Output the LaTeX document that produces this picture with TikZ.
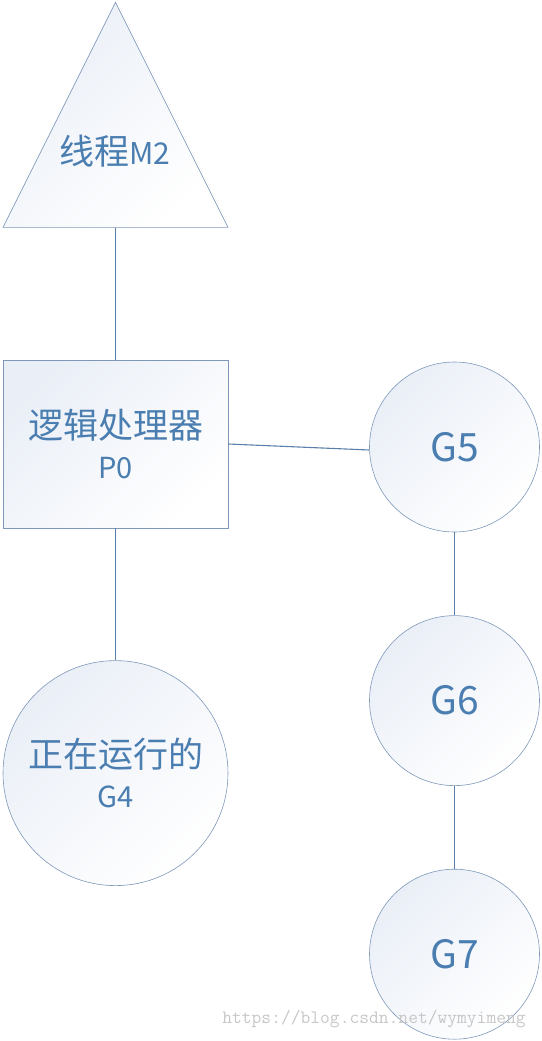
\documentclass[tikz,border=0pt]{standalone}
\usepackage{fontspec}
\setmainfont{Noto Sans CJK SC}
\usetikzlibrary{shapes.geometric,positioning}
\definecolor{rand}{HTML}{7F98BA}
\definecolor{linie}{HTML}{5A7FAA}
\definecolor{schrift}{HTML}{4A7DB0}
\definecolor{hell}{HTML}{EAEFF7}
\tikzset{
    %Define base look of all shapes
    form/.style={
           draw=rand, line width=0.6pt,
           top color=hell, bottom color=white,
           shading angle=45,
           inner sep=0pt},
    %Define style for the thread triangle
    dreieck/.style={
           form,
           isosceles triangle,
           isosceles triangle stretches,
           shape border rotate=90,
           minimum width=225pt,
           minimum height=225pt},
    %Define style for the processor box
    kasten/.style={
           form,
           rectangle,
           minimum width=225pt,
           minimum height=168pt},
    %Define style for the goroutines
    kreis/.style={
           form,
           circle,
           minimum size=170pt},
    % Define texts
    schrift/.style={
           text=schrift,
           align=center,
           font=\fontsize{35}{40}\selectfont},
    gross/.style={
           text=schrift,
           font=\fontsize{39}{44}\selectfont},
    % Define line style
    linie/.style={
           draw=linie,
           line width=1.1pt}
}

\begin{document}
\begin{tikzpicture}[x=1pt,y=1pt,node distance=132pt]
    \useasboundingbox (0,0) rectangle (541,-1041);
    \node (p0) [kasten] at (115.5,-444) {};
    \node (p0text) [schrift] at (p0) {逻辑处理器\\{\fontsize{29}{40}\selectfont P0}};
    \node (m2) [dreieck] [above=of p0] {};
    \node (m2text) [schrift] at (115,-151) {线程{\fontsize{30}{40}\selectfont M2}};
    \node (g4) [form,circle,minimum size=225pt] [below=of p0] {};
    \node (g4text) [schrift] at (g4) {正在运行的\\{\fontsize{29}{40}\selectfont G4}};
    \node (g5) [kreis] at (454.5,-447) {};
    \node (g5text) [gross] at (g5) {G5};
    \node (g6) [kreis] [below=83pt of g5] {};
    \node (g6text) [gross] at (g6) {G6};
    \node (g7) [kreis] [below=83pt of g6] {};
    \node (g7text) [gross] at (g7) {G7};
    % connectors
    \draw [linie] (m2.south) -- (p0.north);
    \draw [linie] (p0.south) -- (g4.north);
    \draw [linie] (p0.east) -- ([yshift=-3pt]g5.west);
    \draw [linie] (g5) -- (g6);
    \draw [linie] (g6) -- (g7);
    % watermark
    \node (mark) [text=black!22,font=\ttfamily\fontsize{19}{20}\selectfont]
          at (374,-1019) {https://blog.csdn.net/wymyimeng};
\end{tikzpicture}
\end{document}
